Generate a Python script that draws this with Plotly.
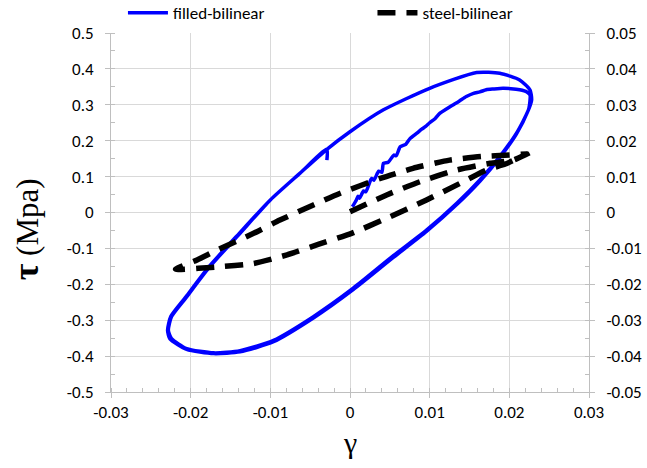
import plotly.graph_objects as go

# ---------------- data ----------------
# filled-bilinear (left axis, tau in MPa)
filled_gamma = [0.0003, 0.0008, 0.0010, 0.0012, 0.0017, 0.0020, 0.0027, 0.0030, 0.0036, 0.0040,
                0.0042, 0.0048, 0.0055, 0.0058, 0.0063, 0.0070, 0.0075, 0.0084, 0.0090, 0.0095,
                0.0100, 0.0107, 0.0113, 0.0120, 0.0128, 0.0137, 0.0146, 0.0155, 0.0163, 0.0171,
                0.0180, 0.0192, 0.0202, 0.0213, 0.0222, 0.0226,
                0.0226, 0.0224, 0.0209, 0.0188, 0.0163, 0.0134, 0.0096, 0.0054, 0.0004, -0.0046,
                -0.0096, -0.0138, -0.0171, -0.0205, -0.0224, -0.0228, -0.0224, -0.0205, -0.0176, -0.0138,
                -0.0100, -0.0063, -0.0029, 0.0000, 0.0042, 0.0100, 0.0159, 0.0188, 0.0213, 0.0226,
                0.0228, 0.0224, 0.0209, 0.0188, 0.0163, 0.0134, 0.0096, 0.0054, 0.0004, -0.0046,
                -0.0096, -0.0138, -0.0171, -0.0205, -0.0226, -0.0229, -0.0225, -0.0206, -0.0177, -0.0139,
                -0.0100, -0.0063, -0.0029, -0.0029]
filled_tau = [0.016, 0.035, 0.045, 0.040, 0.060, 0.058, 0.095, 0.090, 0.115, 0.112,
              0.137, 0.140, 0.160, 0.158, 0.183, 0.190, 0.205, 0.221, 0.232, 0.240,
              0.250, 0.262, 0.277, 0.287, 0.298, 0.310, 0.323, 0.332, 0.336, 0.342,
              0.344, 0.346, 0.345, 0.342, 0.336, 0.327,
              0.314, 0.286, 0.221, 0.156, 0.091, 0.026, -0.049, -0.121, -0.211, -0.290,
              -0.356, -0.385, -0.391, -0.379, -0.351, -0.328, -0.290, -0.235, -0.151, -0.058,
              0.035, 0.109, 0.176, 0.225, 0.286, 0.346, 0.390, 0.388, 0.369, 0.341,
              0.314, 0.286, 0.219, 0.153, 0.087, 0.022, -0.053, -0.126, -0.215, -0.294,
              -0.360, -0.388, -0.393, -0.381, -0.352, -0.328, -0.290, -0.235, -0.151, -0.058,
              0.035, 0.109, 0.176, 0.146]

# steel-bilinear (right axis)
steel_gamma = [0.0000, 0.0046, 0.0088, 0.0133, 0.0176, 0.0205, 0.0222,
               0.0195, 0.0171, 0.0138, 0.0096, 0.0046, 0.0002, -0.0040, -0.0079, -0.0121, -0.0163, -0.0219,
               -0.0192, -0.0167, -0.0121, -0.0088, -0.0046, -0.0013, 0.0038, 0.0079, 0.0125, 0.0165,
               0.0200, 0.0222]
steel_tau = [0.0002, 0.0049, 0.0086, 0.0118, 0.0137, 0.0146, 0.0163,
             0.0135, 0.0118, 0.0081, 0.0035, -0.0016, -0.0058, -0.0089, -0.0118, -0.0142, -0.0151, -0.0158,
             -0.0132, -0.0105, -0.0058, -0.0021, 0.0021, 0.0053, 0.0095, 0.0123, 0.0146, 0.0156,
             0.0160, 0.0163]

x_ticks = [-0.03, -0.02, -0.01, 0, 0.01, 0.02, 0.03]
x_labels = ["-0.03", "-0.02", "-0.01", "0", "0.01", "0.02", "0.03"]
y_ticks = [0.5, 0.4, 0.3, 0.2, 0.1, 0, -0.1, -0.2, -0.3, -0.4, -0.5]
y_labels = ["0.5", "0.4", "0.3", "0.2", "0.1", "0", "-0.1", "-0.2", "-0.3", "-0.4", "-0.5"]
y2_ticks = [0.05, 0.04, 0.03, 0.02, 0.01, 0, -0.01, -0.02, -0.03, -0.04, -0.05]
y2_labels = ["0.05", "0.04", "0.03", "0.02", "0.01", "0", "-0.01", "-0.02", "-0.03", "-0.04", "-0.05"]

# ---------------- figure ----------------
FONT = "'Liberation Sans Narrow', Carlito, 'Arial Narrow', 'Liberation Sans', sans-serif"
SERIF = "'Liberation Serif', 'Times New Roman', serif"
AX = "#bfbfbf"
GRID = "#d9d9d9"

fig = go.Figure()
fig.add_trace(go.Scatter(x=filled_gamma, y=filled_tau, mode="lines", name="filled-bilinear",
                         legend="legend",
                         line=dict(color="#0000ff", width=3.5, shape="spline", smoothing=0.6)))
fig.add_trace(go.Scatter(x=steel_gamma, y=steel_tau, mode="lines", name="steel-bilinear",
                         yaxis="y2", legend="legend2",
                         line=dict(color="#000000", width=5.5, dash="18px,11px",
                                   shape="spline", smoothing=0.5)))

leg_common = dict(orientation="h", yanchor="middle", xanchor="left",
                  font=dict(size=17, family=FONT), bgcolor="rgba(0,0,0,0)", itemwidth=40)

fig.update_layout(
    width=647, height=468,
    margin=dict(l=111, r=58, t=33, b=76, autoexpand=False),
    paper_bgcolor="white", plot_bgcolor="white",
    font=dict(family=FONT, size=17, color="black"),
    showlegend=True,
    legend=dict(x=0.025, y=1.055, **leg_common),
    legend2=dict(x=0.547, y=1.055, **leg_common),
    xaxis=dict(range=[-0.03, 0.03], tickvals=x_ticks, ticktext=x_labels,
               showgrid=True, gridcolor=GRID, gridwidth=1, zeroline=False,
               showline=True, linecolor=AX, linewidth=1,
               ticks="outside", ticklen=5, tickcolor=AX,
               minor=dict(dtick=0.002, ticks="inside", ticklen=4, tickcolor=AX, showgrid=False)),
    yaxis=dict(range=[-0.5, 0.5], tickvals=y_ticks, ticktext=y_labels,
               showgrid=True, gridcolor=GRID, gridwidth=1, zeroline=False,
               showline=True, linecolor=AX, linewidth=1,
               ticks="outside", ticklen=5, tickcolor=AX, ticklabelstandoff=8,
               minor=dict(dtick=0.05, ticks="inside", ticklen=4, tickcolor=AX, showgrid=False)),
    yaxis2=dict(range=[-0.05, 0.05], tickvals=y2_ticks, ticktext=y2_labels,
                overlaying="y", side="right", showgrid=False, zeroline=False,
                showline=True, linecolor=AX, linewidth=1,
                ticks="outside", ticklen=5, tickcolor=AX, ticklabelstandoff=8,
                minor=dict(dtick=0.005, ticks="inside", ticklen=4, tickcolor=AX, showgrid=False)),
    annotations=[
        dict(text="<b><span style='font-size:36px'>τ</span></b> (Mpa)", textangle=-90,
             xref="paper", yref="paper", x=-0.178, y=0.453, xanchor="center", yanchor="middle",
             showarrow=False, font=dict(family=SERIF, size=31)),
        dict(text="γ", xref="paper", yref="paper", x=0.5, y=-0.09, xanchor="center", yanchor="top",
             showarrow=False, font=dict(family=SERIF, size=30)),
    ],
)

fig.write_html("out.html", config={"displayModeBar": False},
               post_script="document.body.style.margin='0px';")
